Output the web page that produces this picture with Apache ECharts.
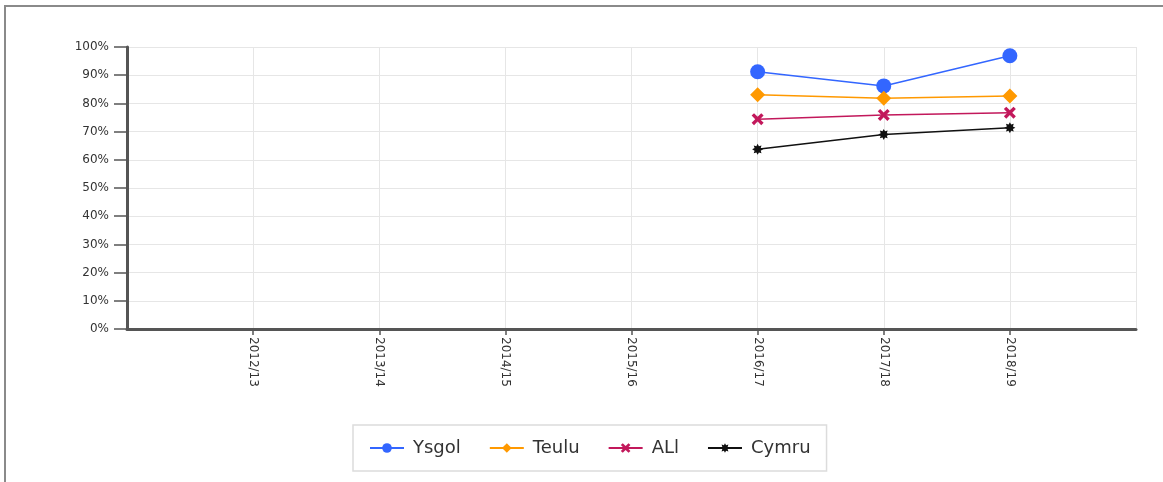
<!DOCTYPE html>
<html>
<head>
<meta charset="utf-8">
<script src="https://cdn.jsdelivr.net/npm/echarts@6/dist/echarts.min.js"></script>
<style>
  html, body { margin: 0; padding: 0; background: #fff; }
  #frame {
    position: absolute; left: 4px; top: 5px; width: 1159px; height: 477px;
    border-left: 2px solid #8a8a8a; border-top: 2px solid #8a8a8a;
  }
  #chart { position: absolute; left: 0; top: 0; width: 1163px; height: 482px; }
</style>
</head>
<body>
<div id="frame"></div>
<div id="chart"></div>
<script>
// empty slots at both ends keep the years off the plot edges
const years = ['', '2012/13', '2013/14', '2014/15', '2015/16', '2016/17', '2017/18', '2018/19', ''];
const yTicks = [0, 10, 20, 30, 40, 50, 60, 70, 80, 90, 100];

const ysgol = [null, null, null, null, null, 91.2, 86.2, 96.9, null];
const teulu = [null, null, null, null, null, 83.1, 81.8, 82.6, null];
const all = [null, null, null, null, null, 74.4, 75.9, 76.7, null];
const cymru = [null, null, null, null, null, 63.7, 69.0, 71.4, null];

const font = 'Tahoma, "DejaVu Sans", sans-serif';
const crossPath = 'path://M2,0 L5,3 L8,0 L10,2 L7,5 L10,8 L8,10 L5,7 L2,10 L0,8 L3,5 L0,2 Z';
const starPath = 'path://M20,10 L15.54,12.3 L17.07,17.07 L12.3,15.54 L10,20 L7.7,15.54 L2.93,17.07 L4.46,12.3 L0,10 L4.46,7.7 L2.93,2.93 L7.7,4.46 L10,0 L12.3,4.46 L17.07,2.93 L15.54,7.7 Z';

function lineSeries(name, data, color, symbol, size) {
  return {
    name: name,
    type: 'line',
    data: data,
    symbol: symbol,
    symbolSize: size,
    showAllSymbol: true,
    lineStyle: { color: color, width: 1.5 },
    itemStyle: { color: color },
    emphasis: { disabled: true },
  };
}

const chart = echarts.init(document.getElementById('chart'));
chart.setOption({
  animation: false,
  grid: { left: 127, right: 27, top: 47, bottom: 153 },
  legend: {
    left: 353,
    top: 425,
    padding: [14, 16],
    itemGap: 28,
    itemWidth: 34,
    itemHeight: 12,
    borderColor: '#dcdcdc',
    borderWidth: 1.5,
    textStyle: { fontFamily: font, fontSize: 18, color: '#333', padding: [0, 0, 0, 4] },
    data: ['Ysgol', 'Teulu', 'ALl', 'Cymru'],
  },
  xAxis: {
    type: 'category',
    data: years,
    boundaryGap: false,
    axisLine: { lineStyle: { color: '#555', width: 3 } },
    axisTick: {
      length: 6,
      interval: (i) => i > 0 && i < years.length - 1,
      lineStyle: { color: '#555', width: 1.5 },
    },
    axisLabel: { rotate: -90, margin: 8, fontFamily: font, fontSize: 12, color: '#333', interval: 0 },
    splitLine: { show: true, lineStyle: { color: '#e6e6e6', width: 1 } },
  },
  yAxis: {
    type: 'value',
    min: yTicks[0],
    max: yTicks[yTicks.length - 1],
    interval: 10,
    axisLine: { show: true, lineStyle: { color: '#555', width: 3 } },
    axisTick: { show: true, length: 13, lineStyle: { color: '#555', width: 1.5 } },
    axisLabel: { margin: 18, fontFamily: font, fontSize: 12, color: '#333', formatter: '{value}%' },
    splitLine: { lineStyle: { color: '#e6e6e6', width: 1 } },
  },
  series: [
    lineSeries('Ysgol', ysgol, '#3366ff', 'circle', 15),
    lineSeries('Teulu', teulu, '#ff9900', 'diamond', 15),
    lineSeries('ALl', all, '#c2185b', crossPath, 12),
    lineSeries('Cymru', cymru, '#111', starPath, 11),
  ],
});
</script>
</body>
</html>
